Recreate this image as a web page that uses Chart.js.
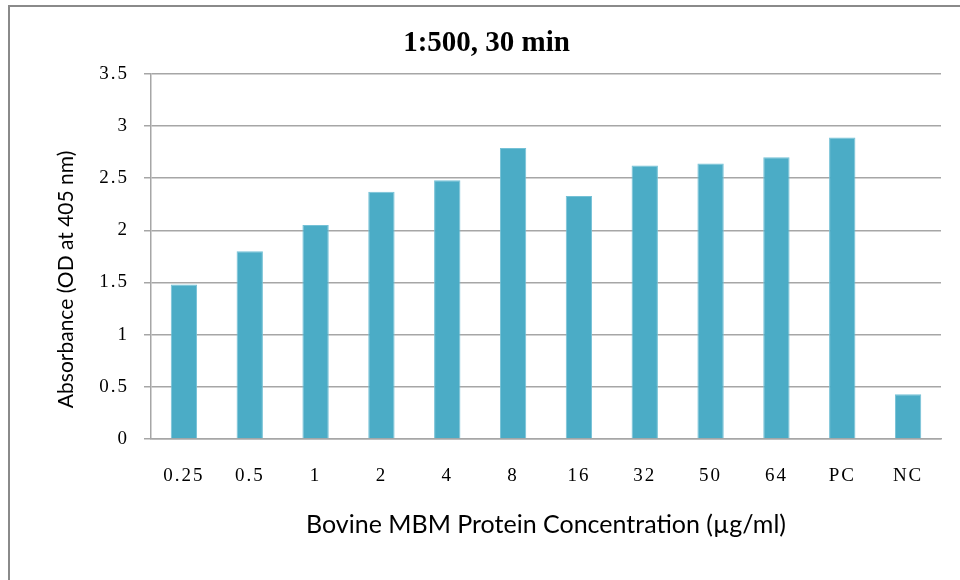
<!DOCTYPE html>
<html>
<head>
<meta charset="utf-8">
<script src="https://cdn.jsdelivr.net/npm/chart.js@4.4.1/dist/chart.umd.min.js"></script>
<style>
html,body{margin:0;padding:0;background:#fff;}
#wrap{position:relative;width:960px;height:580px;}
</style>
</head>
<body>
<div id="wrap"><canvas id="c" width="960" height="580"></canvas></div>
<script>
const categories = ["0.25","0.5","1","2","4","8","16","32","50","64","PC","NC"];
const absorbance = [1.48, 1.80, 2.05, 2.37, 2.48, 2.79, 2.33, 2.62, 2.64, 2.70, 2.89, 0.43];
const yTicks = [0, 0.5, 1, 1.5, 2, 2.5, 3, 3.5];
const chartTitle = "1:500, 30 min";
const xTitle = "Bovine MBM Protein Concentration (\u00b5g/ml)";
const yTitle = "Absorbance (OD at 405 nm)";

const SERIF = '"Liberation Serif", "Times New Roman", serif';
const SANS = 'Lato, "Open Sans", sans-serif';

const frame = {
  id: 'frame',
  beforeDraw(chart) {
    const ctx = chart.ctx;
    ctx.save();
    ctx.fillStyle = '#ffffff';
    ctx.fillRect(0, 0, chart.width, chart.height);
    ctx.strokeStyle = '#8a8a8a';
    ctx.lineWidth = 2;
    ctx.beginPath();
    ctx.moveTo(9, 580);
    ctx.lineTo(9, 6);
    ctx.lineTo(960, 6);
    ctx.stroke();
    ctx.restore();

    // text styling tweaks: spaced tick labels, offset titles
    for (const id of ['x', 'y']) {
      const s = chart.scales[id];
      if (s && !s._styled) {
        const origLabels = s.drawLabels;
        s.drawLabels = function (ca) {
          const c = this.ctx; c.save(); c.letterSpacing = '2px';
          origLabels.call(this, ca); c.restore();
        };
        if (id === 'y') {
          const origTitle = s.drawTitle;
          s.drawTitle = function () {
            const c = this.ctx; c.save(); c.translate(0, 23);
            origTitle.call(this); c.restore();
          };
        }
        s._styled = true;
      }
    }
    const tb = chart.titleBlock;
    if (tb && !tb._styled) {
      const origDraw = tb.draw;
      tb.draw = function (ca) {
        const c = this.ctx; c.save(); c.translate(16, 0);
        origDraw.call(this, ca); c.restore();
      };
      tb._styled = true;
    }
  }
};

new Chart(document.getElementById('c'), {
  type: 'bar',
  data: {
    labels: categories,
    datasets: [{
      data: absorbance,
      backgroundColor: '#4bacc6',
      borderColor: '#74c1d6',
      borderWidth: 1,
      categoryPercentage: 1.0,
      barPercentage: 0.4
    }]
  },
  options: {
    responsive: false,
    animation: false,
    devicePixelRatio: 1,
    layout: { padding: { left: 0, right: 19, top: 0, bottom: 0 } },
    plugins: {
      legend: { display: false },
      tooltip: { enabled: false },
      title: {
        display: true,
        text: chartTitle,
        color: '#000',
        font: { family: SERIF, size: 29, weight: 'bold' },
        padding: { top: 26, bottom: 13 }
      }
    },
    scales: {
      x: {
        grid: { display: false, drawTicks: false },
        border: { display: true, color: '#a6a6a6', width: 1.5 },
        ticks: {
          color: '#000',
          font: { family: SERIF, size: 19 },
          padding: 26,
          maxRotation: 0
        },
        title: {
          display: true,
          text: xTitle,
          color: '#000',
          font: { family: SANS, size: 25 },
          padding: { top: 0, bottom: 40 }
        },
        afterFit(scale) { scale.height = 141; }
      },
      y: {
        min: 0,
        max: 3.5,
        afterBuildTicks(scale) { scale.ticks = yTicks.map(v => ({ value: v })); },
        grid: { color: '#a6a6a6', lineWidth: 1.5, tickLength: 7, drawTicks: true },
        border: { display: true, color: '#a6a6a6', width: 1.5 },
        ticks: {
          color: '#000',
          font: { family: SERIF, size: 19 },
          padding: 15,
          callback: (v) => String(v)
        },
        title: {
          display: true,
          text: yTitle,
          color: '#000',
          font: { family: SANS, size: 21 },
          padding: { top: 54, bottom: 0 }
        },
        afterFit(scale) { scale.width = 151; }
      }
    }
  },
  plugins: [frame]
});
</script>
</body>
</html>
